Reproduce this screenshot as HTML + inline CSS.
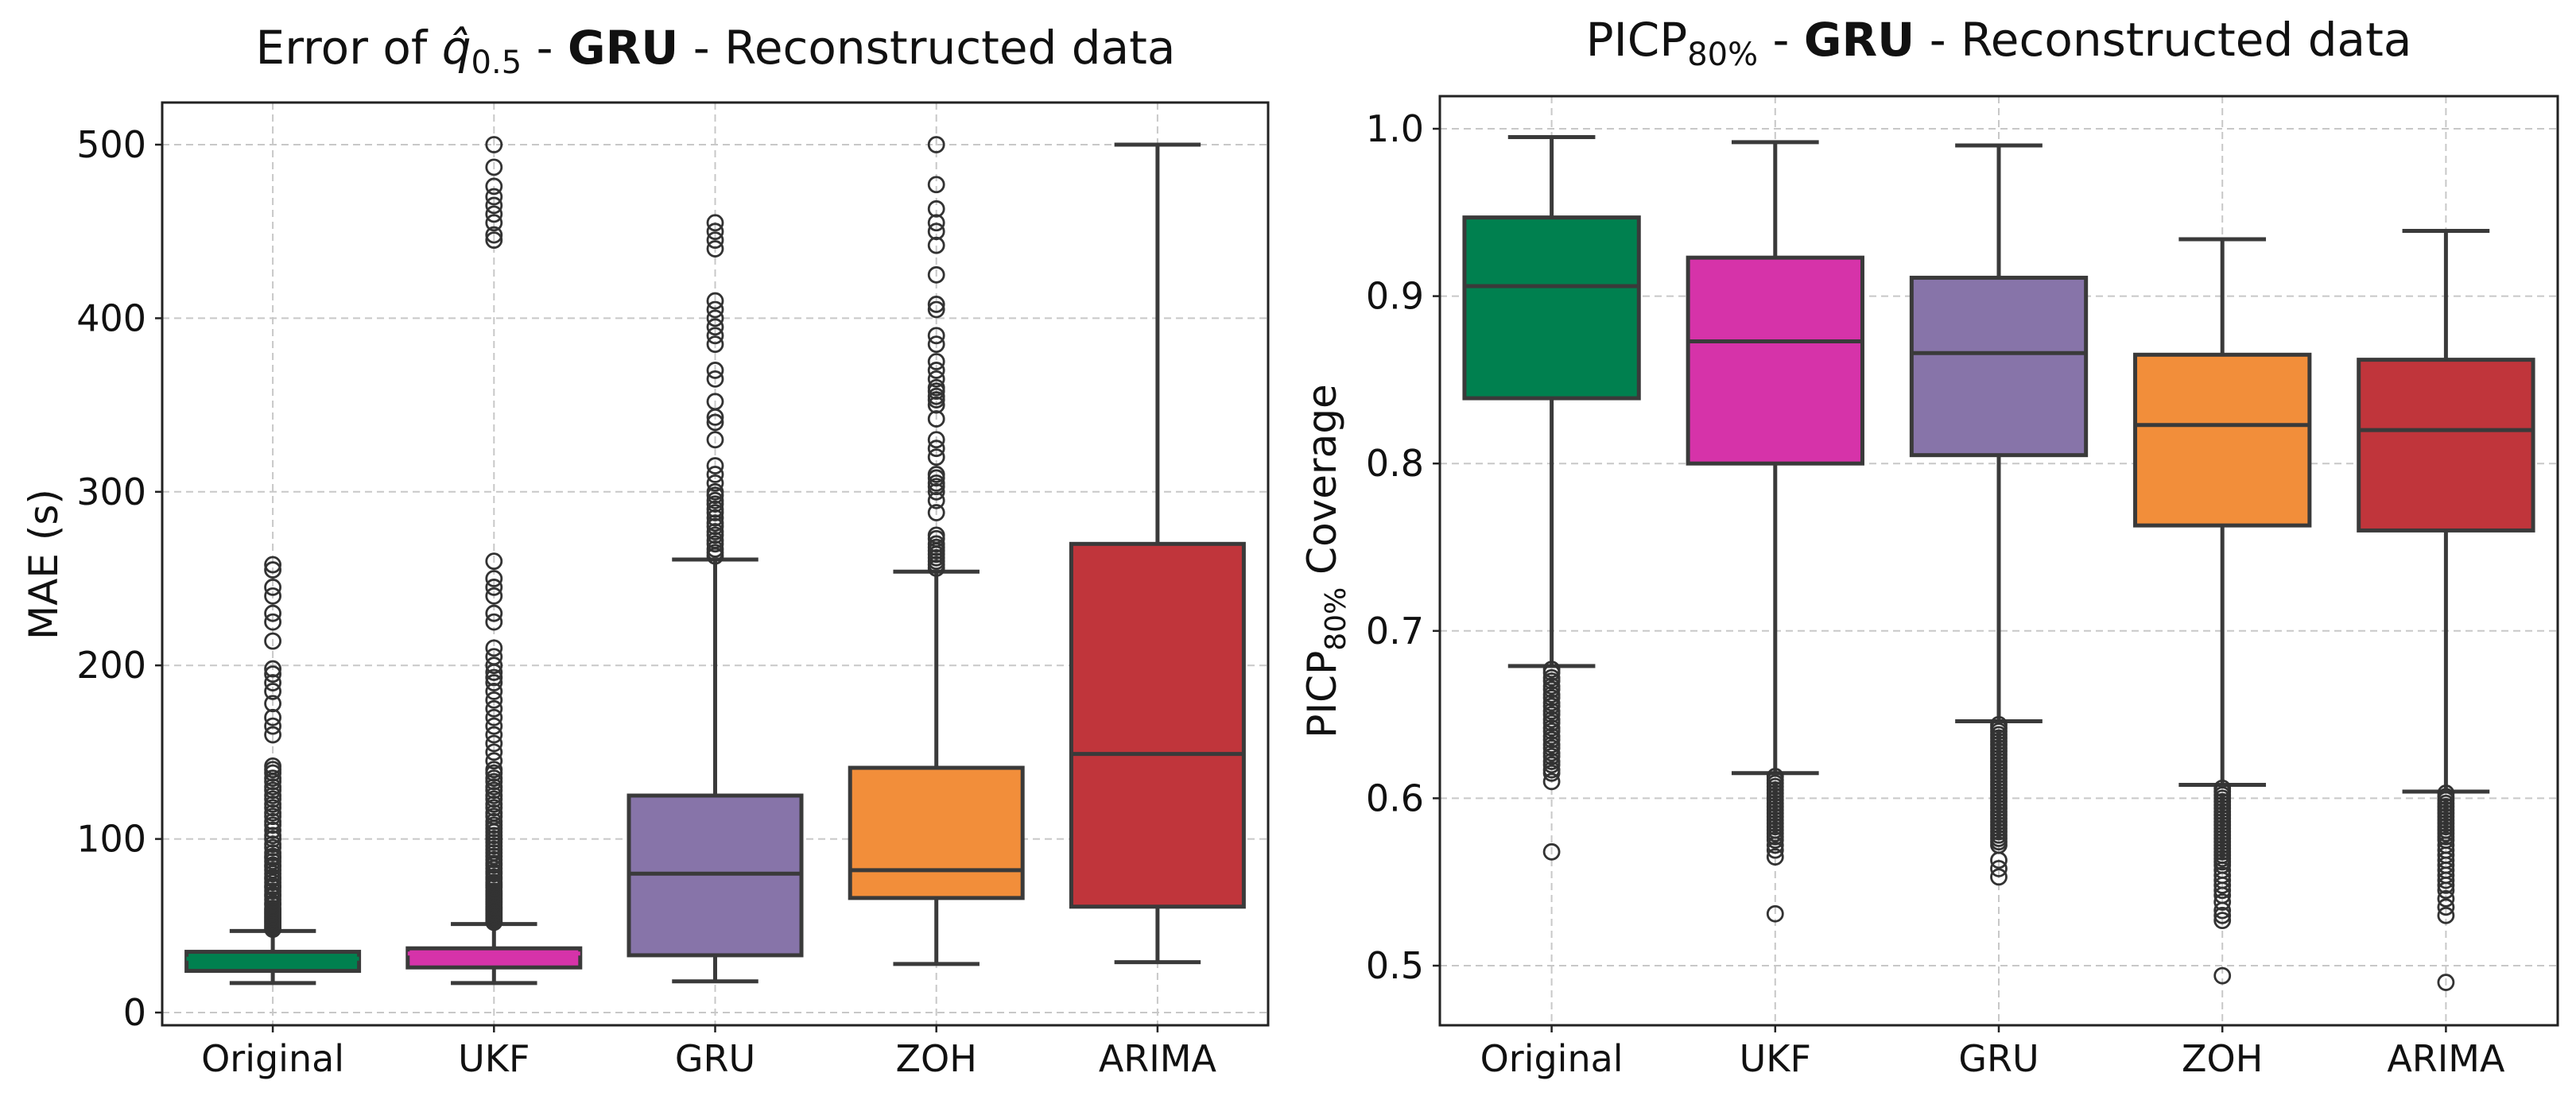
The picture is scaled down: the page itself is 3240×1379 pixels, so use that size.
<!DOCTYPE html>
<html><head><meta charset="utf-8"><style>
html,body{margin:0;padding:0;background:#fff;}
svg{display:block;font-family:"DejaVu Sans","Liberation Sans",sans-serif;}
</style></head><body>
<svg id="chart" width="3240" height="1379" viewBox="0 0 3240 1379" xmlns="http://www.w3.org/2000/svg"></svg>
<script>
const categories = ["Original","UKF","GRU","ZOH","ARIMA"];
const colors = ["#00804f","#d633a9","#8774a9","#f28e3a","#c0353b"];
// MAE panel
const maeLow = [17,17,18,28,29];
const maeQ1 = [24,26,33,66,61];
const maeMed = [31,34,80,82,149];
const maeQ3 = [35,37,125,141,270];
const maeHigh = [47,51,261,254,500];
const maeOutliers = [
 [48,49,50,51,52,53,54,55,56,57,58,59,60,62,63,65,67,68,70,72,73,75,77,78,80,82,84,85,87,89,90,92,95,97,100,102,105,108,110,113,115,118,120,123,125,128,130,133,135,138,140,142,160,165,170,178,185,190,195,198,214,225,230,240,245,255,258],
 [52,53,54,55,56,57,58,59,60,61,62,63,64,65,66,67,68,69,70,72,73,74,75,77,78,80,81,83,85,86,88,90,92,94,96,98,100,102,104,106,108,110,113,115,118,120,123,125,128,130,133,135,138,140,145,150,155,160,165,170,175,180,185,190,193,196,200,205,210,225,230,240,245,250,260,445,448,455,460,465,470,476,487,500],
 [263,265,267,270,272,275,277,280,282,285,288,290,293,295,298,300,305,310,315,330,340,343,352,365,370,385,390,395,400,405,410,440,445,450,455],
 [256,258,260,262,264,266,268,270,273,275,288,295,300,303,305,308,310,320,325,330,342,350,353,355,358,360,365,370,375,385,390,405,408,425,442,450,455,463,477,500],
 []
];
const maeTicks = [0,100,200,300,400,500];
// PICP panel
const pLow = [0.679,0.615,0.646,0.608,0.604];
const pQ1 = [0.839,0.800,0.805,0.763,0.760];
const pMed = [0.906,0.873,0.866,0.823,0.820];
const pQ3 = [0.947,0.923,0.911,0.865,0.862];
const pHigh = [0.995,0.992,0.990,0.934,0.939];
const pOutliers = [
 [0.677,0.675,0.672,0.670,0.667,0.665,0.662,0.660,0.657,0.655,0.652,0.650,0.647,0.645,0.642,0.640,0.637,0.635,0.632,0.630,0.627,0.625,0.622,0.620,0.617,0.615,0.610,0.568],
 [0.613,0.611,0.609,0.607,0.605,0.603,0.601,0.599,0.597,0.595,0.593,0.591,0.589,0.587,0.585,0.583,0.581,0.579,0.577,0.575,0.572,0.569,0.565,0.531],
 [0.644,0.642,0.640,0.638,0.636,0.634,0.632,0.630,0.628,0.626,0.624,0.622,0.620,0.618,0.616,0.614,0.612,0.610,0.608,0.606,0.604,0.602,0.600,0.598,0.596,0.594,0.592,0.590,0.588,0.586,0.584,0.582,0.580,0.578,0.576,0.574,0.572,0.563,0.558,0.553],
 [0.606,0.604,0.602,0.600,0.598,0.596,0.594,0.592,0.590,0.588,0.586,0.584,0.582,0.580,0.578,0.576,0.574,0.572,0.570,0.568,0.566,0.564,0.562,0.560,0.557,0.554,0.551,0.548,0.545,0.542,0.538,0.533,0.530,0.527,0.494],
 [0.603,0.601,0.599,0.597,0.595,0.593,0.591,0.589,0.587,0.585,0.583,0.581,0.579,0.577,0.575,0.572,0.569,0.566,0.563,0.560,0.557,0.554,0.551,0.548,0.545,0.540,0.535,0.530,0.490]
];
const pTicks = [0.5,0.6,0.7,0.8,0.9,1.0];
const pTickLabels = ["0.5","0.6","0.7","0.8","0.9","1.0"];

const NS="http://www.w3.org/2000/svg";
const svg=document.getElementById("chart");
function mk(tag,attrs,parent){const e=document.createElementNS(NS,tag);for(const k in attrs)e.setAttribute(k,attrs[k]);(parent||svg).appendChild(e);return e;}

function panel(o){
  const g=mk("g",{});
  
  
  const y=v=>o.y0px+(v-o.v0)*(o.y1px-o.y0px)/(o.v1-o.v0);
  const step=(o.right-o.left)/categories.length;
  const x=i=>o.left+step*(i+0.5);
  o.ticks.forEach((t,i)=>{
    const gl=mk("line",{x1:o.left,x2:o.right,y1:y(t),y2:y(t),stroke:"#c8c8c8","stroke-width":2,"stroke-dasharray":"9,6"},g);
    
    
    const tk=mk("line",{x1:o.left-9,x2:o.left,y1:y(t),y2:y(t),stroke:"#222","stroke-width":2.5},g);
    
    
    const tl=mk("text",{x:o.left-20,y:y(t)+16,"text-anchor":"end","font-size":46,fill:"#111"},g);
    tl.textContent=o.tickLabels[i];
    
    
  });
  categories.forEach((c,i)=>{
    const gl=mk("line",{x1:x(i),x2:x(i),y1:o.top,y2:o.bottom,stroke:"#c8c8c8","stroke-width":2,"stroke-dasharray":"9,6"},g);
    
    
    const tk=mk("line",{x1:x(i),x2:x(i),y1:o.bottom,y2:o.bottom+9,stroke:"#222","stroke-width":2.5},g);
    
    
    const tl=mk("text",{x:x(i),y:o.bottom+58,"text-anchor":"middle","font-size":46,fill:"#111"},g);
    tl.textContent=c;
    
    
  });
  const bw=step*0.78, cw=bw*0.5, lc="#3a3a3a", lw=5;
  categories.forEach((c,i)=>{
    const bg=mk("g",{},g);
    
    
    const xc=x(i);
    const w1=mk("line",{x1:xc,x2:xc,y1:y(o.low[i]),y2:y(o.q1[i]),stroke:lc,"stroke-width":lw},bg);
    
    
    const w2=mk("line",{x1:xc,x2:xc,y1:y(o.q3[i]),y2:y(o.high[i]),stroke:lc,"stroke-width":lw},bg);
    
    
    const c1=mk("line",{x1:xc-cw/2,x2:xc+cw/2,y1:y(o.low[i]),y2:y(o.low[i]),stroke:lc,"stroke-width":lw},bg);
    
    
    const c2=mk("line",{x1:xc-cw/2,x2:xc+cw/2,y1:y(o.high[i]),y2:y(o.high[i]),stroke:lc,"stroke-width":lw},bg);
    
    
    const yt=Math.min(y(o.q1[i]),y(o.q3[i])), h=Math.abs(y(o.q1[i])-y(o.q3[i]));
    const r=mk("rect",{x:xc-bw/2,y:yt,width:bw,height:h,fill:colors[i],stroke:lc,"stroke-width":lw},bg);
    
    
    const m=mk("line",{x1:xc-bw/2,x2:xc+bw/2,y1:y(o.med[i]),y2:y(o.med[i]),stroke:lc,"stroke-width":lw},bg);
    if(o.medColor&&h<40){m.setAttribute("stroke",colors[i]);}
    
    
    o.out[i].forEach(v=>{
      const p=mk("circle",{cx:xc,cy:y(v),r:9.5,fill:"none",stroke:"#333","stroke-width":2.8},bg);
      
      
    });
  });
  const f=mk("rect",{x:o.left,y:o.top,width:o.right-o.left,height:o.bottom-o.top,fill:"none",stroke:"#222","stroke-width":3},g);
  
  
}

panel({name:"mae-boxplot-panel",left:204,right:1595,top:129,bottom:1290,y0px:1274,y1px:182,v0:0,v1:500,
  ticks:maeTicks,tickLabels:maeTicks.map(String),low:maeLow,q1:maeQ1,med:maeMed,q3:maeQ3,high:maeHigh,out:maeOutliers,medColor:true});
panel({name:"picp-boxplot-panel",left:1811,right:3217,top:121,bottom:1290,y0px:1215,y1px:162,v0:0.5,v1:1.0,
  ticks:pTicks,tickLabels:pTickLabels,low:pLow,q1:pQ1,med:pMed,q3:pQ3,high:pHigh,out:pOutliers,medColor:false});
</script>
<svg style="position:absolute;left:0;top:0" width="3240" height="1379" xmlns="http://www.w3.org/2000/svg">
  <text x="900" y="80" text-anchor="middle" font-size="58" fill="#111" font-family="DejaVu Sans, Liberation Sans, sans-serif">Error of <tspan font-style="italic">q̂</tspan><tspan font-size="40" dy="12">0.5</tspan><tspan dy="-12"> - </tspan><tspan font-weight="bold">GRU</tspan> - Reconstructed data</text>
  <text x="2514" y="70" text-anchor="middle" font-size="58" fill="#111" font-family="DejaVu Sans, Liberation Sans, sans-serif">PICP<tspan font-size="40" dy="12">80%</tspan><tspan dy="-12"> - </tspan><tspan font-weight="bold">GRU</tspan> - Reconstructed data</text>
  <text transform="translate(72,710) rotate(-90)" text-anchor="middle" font-size="50" fill="#111" font-family="DejaVu Sans, Liberation Sans, sans-serif">MAE (s)</text>
  <text transform="translate(1680,706) rotate(-90)" text-anchor="middle" font-size="50" fill="#111" font-family="DejaVu Sans, Liberation Sans, sans-serif">PICP<tspan font-size="36" dy="12">80%</tspan><tspan dy="-12"> Coverage</tspan></text>
</svg>
</body></html>
